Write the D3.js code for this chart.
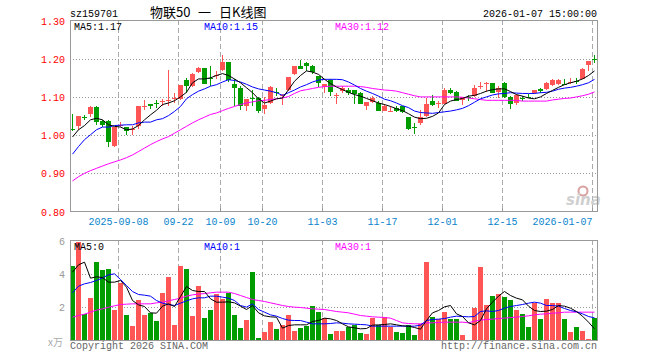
<!DOCTYPE html>
<html>
<head>
<meta charset="utf-8">
<script src="https://cdn.jsdelivr.net/npm/d3@7"></script>
<style>
body { margin: 0; background: #fff; }
text { font-family: "Liberation Mono", "DejaVu Sans Mono", monospace; font-size: 10px; }
</style>
</head>
<body>
<svg id="kline" width="660" height="360"></svg>
<script>
// trading days shown on the chart
var dates = [
  "2025-08-27","2025-08-28","2025-08-29","2025-09-01","2025-09-02","2025-09-03","2025-09-04","2025-09-05",
  "2025-09-08","2025-09-09","2025-09-10","2025-09-11","2025-09-12","2025-09-15","2025-09-16","2025-09-17",
  "2025-09-18","2025-09-19","2025-09-22","2025-09-23","2025-09-24","2025-09-25","2025-09-26","2025-09-29",
  "2025-09-30","2025-10-09","2025-10-10","2025-10-13","2025-10-14","2025-10-15","2025-10-16","2025-10-17",
  "2025-10-20","2025-10-21","2025-10-22","2025-10-23","2025-10-24","2025-10-27","2025-10-28","2025-10-29",
  "2025-10-30","2025-10-31","2025-11-03","2025-11-04","2025-11-05","2025-11-06","2025-11-07","2025-11-10",
  "2025-11-11","2025-11-12","2025-11-13","2025-11-14","2025-11-17","2025-11-18","2025-11-19","2025-11-20",
  "2025-11-21","2025-11-24","2025-11-25","2025-11-26","2025-11-27","2025-11-28","2025-12-01","2025-12-02",
  "2025-12-03","2025-12-04","2025-12-05","2025-12-08","2025-12-09","2025-12-10","2025-12-11","2025-12-12",
  "2025-12-15","2025-12-16","2025-12-17","2025-12-18","2025-12-19","2025-12-22","2025-12-23","2025-12-24",
  "2025-12-25","2025-12-26","2025-12-29","2025-12-30","2025-12-31","2026-01-05","2026-01-06","2026-01-07"
];

var open = [
  1.015,1.025,1.048,1.056,1.073,1.036,1.036,0.972,1.025,1.020,
  1.014,1.023,1.075,1.082,1.083,1.086,1.089,1.095,1.095,1.143,
  1.128,1.165,1.175,1.149,1.155,1.170,1.191,1.135,1.124,1.075,
  1.097,1.097,1.069,1.084,1.114,1.104,1.117,1.160,1.182,1.190,
  1.182,1.154,1.126,1.144,1.105,1.115,1.117,1.117,1.110,1.075,
  1.086,1.084,1.064,1.063,1.071,1.075,1.047,1.022,1.031,1.049,
  1.089,1.083,1.082,1.119,1.112,1.091,1.100,1.102,1.127,1.135,
  1.137,1.112,1.137,1.100,1.084,1.096,1.100,1.109,1.121,1.121,
  1.132,1.134,1.135,1.139,1.141,1.147,1.183,1.199
];
var high = [
  1.054,1.051,1.053,1.077,1.075,1.040,1.040,1.021,1.033,1.021,
  1.025,1.077,1.091,1.082,1.091,1.095,1.170,1.109,1.132,1.150,
  1.163,1.177,1.175,1.182,1.167,1.209,1.191,1.146,1.128,1.095,
  1.119,1.100,1.100,1.128,1.123,1.107,1.152,1.182,1.196,1.191,
  1.183,1.156,1.135,1.146,1.110,1.128,1.124,1.119,1.114,1.086,
  1.103,1.088,1.081,1.075,1.077,1.077,1.047,1.032,1.065,1.096,
  1.106,1.088,1.122,1.124,1.115,1.100,1.104,1.130,1.140,1.138,
  1.137,1.128,1.139,1.102,1.107,1.103,1.107,1.119,1.123,1.139,
  1.147,1.146,1.146,1.149,1.149,1.176,1.193,1.209
];
var low = [
  1.012,1.014,1.040,1.047,1.027,1.021,0.968,0.968,1.021,1.000,
  1.000,1.016,1.067,1.069,1.071,1.075,1.075,1.084,1.093,1.111,
  1.126,1.163,1.135,1.128,1.147,1.167,1.139,1.075,1.067,1.062,
  1.075,1.058,1.054,1.082,1.103,1.080,1.115,1.158,1.173,1.168,
  1.161,1.126,1.109,1.102,1.082,1.110,1.106,1.082,1.082,1.065,
  1.084,1.062,1.062,1.060,1.060,1.058,1.014,1.004,1.027,1.047,
  1.077,1.070,1.081,1.108,1.088,1.078,1.089,1.100,1.121,1.112,
  1.109,1.098,1.098,1.068,1.079,1.089,1.096,1.108,1.109,1.117,
  1.128,1.130,1.130,1.135,1.135,1.146,1.168,1.188
];
var close = [
  1.013,1.051,1.046,1.073,1.033,1.027,0.981,1.021,1.027,1.012,
  1.017,1.075,1.077,1.075,1.081,1.088,1.091,1.097,1.130,1.128,
  1.161,1.175,1.135,1.147,1.158,1.191,1.144,1.122,1.075,1.095,
  1.096,1.062,1.080,1.126,1.113,1.105,1.152,1.181,1.174,1.182,
  1.165,1.137,1.135,1.112,1.106,1.124,1.110,1.108,1.082,1.086,
  1.097,1.064,1.075,1.064,1.062,1.060,1.017,1.021,1.047,1.082,
  1.078,1.084,1.117,1.110,1.090,1.100,1.099,1.124,1.128,1.136,
  1.110,1.122,1.100,1.082,1.104,1.095,1.099,1.117,1.115,1.137,
  1.144,1.143,1.134,1.140,1.140,1.174,1.193,1.198
];

var ma5 = [
  0.995,1.014,1.025,1.040,1.044,1.040,1.027,1.023,1.021,1.014,
  1.016,1.025,1.040,1.053,1.065,1.080,1.084,1.090,1.100,1.112,
  1.137,1.147,1.147,1.150,1.156,1.161,1.156,1.147,1.137,1.124,
  1.111,1.095,1.084,1.089,1.095,1.097,1.119,1.141,1.156,1.168,
  1.165,1.159,1.146,1.135,1.126,1.119,1.112,1.106,1.102,1.096,
  1.090,1.084,1.080,1.075,1.069,1.064,1.056,1.047,1.043,1.044,
  1.049,1.058,1.080,1.089,1.093,1.096,1.102,1.104,1.109,1.115,
  1.119,1.121,1.121,1.114,1.106,1.102,1.097,1.095,1.100,1.109,
  1.117,1.125,1.132,1.137,1.141,1.147,1.156,1.168
];
var ma10 = [
  0.950,0.970,0.988,1.001,1.014,1.021,1.021,1.025,1.026,1.027,
  1.027,1.032,1.034,1.034,1.040,1.043,1.051,1.062,1.075,1.095,
  1.106,1.115,1.121,1.128,1.132,1.139,1.145,1.143,1.139,1.133,
  1.126,1.121,1.118,1.115,1.111,1.104,1.111,1.118,1.126,1.132,
  1.139,1.144,1.146,1.146,1.146,1.145,1.139,1.131,1.122,1.115,
  1.109,1.102,1.094,1.090,1.084,1.077,1.072,1.063,1.059,1.058,
  1.057,1.059,1.061,1.063,1.066,1.070,1.077,1.086,1.095,1.100,
  1.105,1.108,1.109,1.111,1.110,1.109,1.109,1.109,1.111,1.112,
  1.115,1.120,1.123,1.125,1.128,1.132,1.137,1.146
];
var ma30 = [
  0.880,0.891,0.900,0.907,0.913,0.919,0.925,0.930,0.935,0.941,
  0.948,0.957,0.966,0.975,0.983,0.990,0.996,1.005,1.014,1.023,
  1.032,1.040,1.047,1.054,1.058,1.064,1.070,1.075,1.080,1.084,
  1.087,1.090,1.091,1.093,1.095,1.097,1.101,1.109,1.116,1.119,
  1.122,1.125,1.127,1.128,1.128,1.128,1.128,1.128,1.127,1.125,
  1.122,1.120,1.118,1.117,1.115,1.111,1.107,1.103,1.100,1.100,
  1.100,1.100,1.100,1.100,1.100,1.099,1.097,1.095,1.093,1.091,
  1.091,1.091,1.091,1.091,1.091,1.089,1.089,1.089,1.089,1.089,
  1.092,1.094,1.096,1.097,1.100,1.103,1.107,1.113
];

// volume, in 万
var volume = [
  4.50,5.94,1.60,2.54,4.70,4.22,4.32,1.86,3.44,1.56,
  0.90,2.46,1.56,1.66,1.20,2.86,3.84,0.96,4.50,4.32,
  1.46,3.30,1.38,1.86,2.80,2.50,2.86,1.56,0.78,1.26,
  4.14,0.18,0.54,1.14,0.72,0.96,1.56,0.60,0.78,0.86,
  2.10,1.74,1.36,0.42,0.60,0.60,0.84,0.96,0.48,0.42,
  1.36,0.96,1.44,0.84,0.54,0.48,0.96,0.36,0.98,4.74,
  1.44,1.30,1.74,1.30,1.30,0.36,0.06,1.94,4.44,2.16,
  2.70,2.82,2.64,2.46,1.86,1.62,0.84,2.28,1.32,2.52,
  2.28,2.28,1.32,0.54,0.84,0.60,0.12,1.38
];
var vma5 = [
  4.10,4.54,4.70,3.74,3.82,3.78,3.50,3.50,3.60,3.20,
  2.40,2.14,2.04,1.66,1.64,2.06,2.20,2.04,2.64,3.24,
  3.00,2.94,2.94,2.50,2.30,2.30,2.32,2.26,2.06,1.86,
  2.10,1.66,1.48,1.42,1.40,0.74,0.90,0.94,0.94,0.94,
  1.14,1.20,1.34,1.30,1.20,1.00,0.82,0.76,0.70,0.72,
  0.92,0.94,0.96,1.00,0.94,0.88,0.86,0.78,0.68,1.20,
  1.66,1.80,2.02,2.10,1.60,1.44,1.06,0.94,1.20,1.90,
  2.30,2.66,2.94,2.70,2.54,2.44,2.06,1.80,1.74,1.76,
  1.86,2.10,2.06,1.94,1.74,1.46,1.10,0.70
];
var vma10 = [
  2.86,3.26,3.40,3.48,3.60,3.76,3.94,4.00,3.66,3.30,
  2.94,2.76,2.72,2.66,2.40,2.24,2.16,2.10,2.24,2.38,
  2.50,2.56,2.56,2.66,2.66,2.60,2.54,2.40,2.10,2.00,
  2.20,1.86,1.70,1.54,1.46,1.32,1.22,1.20,1.20,1.10,
  1.00,1.00,1.00,1.02,1.06,1.04,1.00,0.98,0.96,0.94,
  0.86,0.86,0.86,0.86,0.86,0.86,0.86,0.86,0.92,1.20,
  1.26,1.28,1.32,1.40,1.46,1.44,1.42,1.44,1.74,1.78,
  1.74,1.80,1.94,2.04,2.10,2.16,2.24,2.30,2.24,2.10,
  2.10,2.06,1.92,1.80,1.72,1.60,1.44,1.36
];
var vma30 = [
  1.40,1.50,1.58,1.70,1.82,1.90,2.00,2.08,2.16,2.18,
  2.20,2.20,2.20,2.20,2.26,2.30,2.38,2.46,2.54,2.66,
  2.74,2.78,2.82,2.86,2.90,2.90,2.90,2.82,2.70,2.58,
  2.46,2.40,2.34,2.26,2.18,2.10,2.04,2.00,1.98,1.94,
  1.90,1.88,1.86,1.80,1.74,1.70,1.66,1.58,1.50,1.46,
  1.42,1.40,1.38,1.34,1.20,1.06,1.02,1.00,1.00,1.06,
  1.06,1.08,1.10,1.10,1.10,1.10,1.06,1.16,1.22,1.26,
  1.28,1.32,1.34,1.38,1.40,1.44,1.48,1.54,1.58,1.60,
  1.64,1.66,1.70,1.70,1.70,1.70,1.70,1.70
];

var priceTicks = [0.8, 0.9, 1.0, 1.1, 1.2, 1.3];
var volTicks = [2, 4, 6];
var tickDates = ["2025-09-08","2025-09-22","2025-10-09","2025-10-20","2025-11-03","2025-11-17","2025-12-01","2025-12-15","2026-01-07"];
var tickLabels = ["2025-09-08","09-22","10-09","10-20","11-03","11-17","12-01","12-15","2026-01-07"];

var svg = d3.select("svg#kline");
var red = "#ff5555", green = "#009c00";
var plotLeft = 70, plotRight = 597;

var x = d3.scaleBand()
    .domain(dates)
    .range([69.5, 597.5]);
var cx = function(i) { return x(dates[i]) + 3; };

var y = d3.scaleLinear().domain([0.8, 1.3]).range([211.5, 20.5]);
var yv = d3.scaleLinear().domain([0, 6]).range([340.5, 240.5]);

// ---- titles
svg.append("text").attr("x", 70).attr("y", 16.5).attr("fill", "#000").text("sz159701");
var title = svg.append("g")
    .style("font-family", "'Noto Sans CJK SC', sans-serif").style("font-size", "13px");
[[150, "物联50"], [198, "一"], [219, "日K线图"]].forEach(function(t) {
    title.append("text").attr("x", t[0]).attr("y", 17)
        .style("font-family", "'Noto Sans CJK SC', sans-serif").style("font-size", "13px")
        .attr("fill", "#000").text(t[1]);
});
svg.append("text").attr("x", 597).attr("y", 16.5).attr("text-anchor", "end")
    .attr("fill", "#000").text("2026-01-07 15:00:00");

// ---- grids (main + volume)
function drawFrame(g, top, bottom, yScale, hTicks) {
    g.selectAll("line.h").data(hTicks).enter().append("line")
        .attr("x1", plotLeft).attr("x2", plotRight)
        .attr("y1", function(d) { return Math.round(yScale(d)) + 0.5; })
        .attr("y2", function(d) { return Math.round(yScale(d)) + 0.5; })
        .attr("stroke", "#999").attr("stroke-dasharray", "1,2");
    g.selectAll("line.v").data(tickDates).enter().append("line")
        .attr("x1", function(d) { return x(d) + 1; })
        .attr("x2", function(d) { return x(d) + 1; })
        .attr("y1", top).attr("y2", bottom)
        .attr("stroke", "#aaa").attr("stroke-dasharray", "5,3");
}

var main = svg.append("g");
drawFrame(main, 20, 211, y, [0.9, 1.0, 1.1, 1.2]);
var vol = svg.append("g");
drawFrame(vol, 240, 340, yv, [2, 4]);

// sina watermark
var wm = svg.append("g").attr("fill", "#cfcfcf");
wm.append("circle").attr("cx", 583).attr("cy", 191).attr("r", 4.5)
    .attr("fill", "none").attr("stroke", "#d9a0a0").attr("stroke-width", 2);
wm.append("text").attr("x", 566).attr("y", 205)
    .style("font-family", "'DejaVu Sans', sans-serif").style("font-size", "15px")
    .style("font-style", "italic").style("font-weight", "bold").text("sina");

// ---- candles
var candles = main.append("g").selectAll("g").data(dates).enter().append("g");
candles.append("line")
    .attr("x1", function(d, i) { return Math.floor(cx(i)) + 0.5; })
    .attr("x2", function(d, i) { return Math.floor(cx(i)) + 0.5; })
    .attr("y1", function(d, i) { return y(high[i]); })
    .attr("y2", function(d, i) { return y(low[i]); })
    .attr("stroke", function(d, i) { return close[i] > open[i] ? red : green; })
    .attr("shape-rendering", "crispEdges");
candles.append("rect")
    .attr("x", function(d, i) { return Math.floor(cx(i)) - 2; })
    .attr("width", 5)
    .attr("y", function(d, i) { return y(Math.max(open[i], close[i])); })
    .attr("height", function(d, i) { return Math.max(1, Math.abs(y(open[i]) - y(close[i]))); })
    .attr("fill", function(d, i) { return close[i] > open[i] ? red : green; })
    .attr("shape-rendering", "crispEdges");

// ---- moving averages
var priceLine = d3.line().x(function(d, i) { return cx(i); }).y(function(d) { return y(d); });
main.append("path").attr("d", priceLine(ma30)).attr("fill", "none").attr("stroke", "#ff00ff").attr("stroke-width", 1);
main.append("path").attr("d", priceLine(ma10)).attr("fill", "none").attr("stroke", "#0000ff").attr("stroke-width", 1);
main.append("path").attr("d", priceLine(ma5)).attr("fill", "none").attr("stroke", "#000").attr("stroke-width", 1);

// ---- volume bars
vol.append("g").selectAll("rect").data(volume).enter().append("rect")
    .attr("x", function(d, i) { return Math.floor(cx(i)) - 2; })
    .attr("width", 5)
    .attr("y", function(d) { return yv(d); })
    .attr("height", function(d) { return yv(0) - yv(d); })
    .attr("fill", function(d, i) { return close[i] > open[i] ? red : green; })
    .attr("shape-rendering", "crispEdges");

var volLine = d3.line().x(function(d, i) { return cx(i); }).y(function(d) { return yv(d); });
vol.append("path").attr("d", volLine(vma30)).attr("fill", "none").attr("stroke", "#ff00ff");
vol.append("path").attr("d", volLine(vma10)).attr("fill", "none").attr("stroke", "#0000ff");
vol.append("path").attr("d", volLine(vma5)).attr("fill", "none").attr("stroke", "#000");

// ---- frames
[[20, 211], [240, 340]].forEach(function(b) {
    svg.append("rect").attr("x", plotLeft + 0.5).attr("y", b[0] + 0.5)
        .attr("width", plotRight - plotLeft).attr("height", b[1] - b[0])
        .attr("fill", "none").attr("stroke", "#999").attr("stroke-width", 1);
});

// x ticks on main axis
main.selectAll("line.xt").data(tickDates).enter().append("line")
    .attr("x1", function(d) { return x(d) + 1; })
    .attr("x2", function(d) { return x(d) + 1; })
    .attr("y1", 211).attr("y2", 208)
    .attr("stroke", "#999");

// ---- axis labels
svg.append("g").selectAll("text").data(priceTicks).enter().append("text")
    .attr("x", 65).attr("y", function(d) { return y(d) + 4; })
    .attr("text-anchor", "end").attr("fill", "#ff0000")
    .text(function(d) { return d3.format(".2f")(d); });

svg.append("g").selectAll("text").data(tickDates).enter().append("text")
    .attr("x", function(d) { return x(d) + 1; })
    .attr("y", 225)
    .attr("text-anchor", function(d, i) { return i == tickDates.length - 1 ? "end" : "middle"; })
    .attr("fill", "#0a84cc")
    .text(function(d, i) { return tickLabels[i]; });

svg.append("g").selectAll("text").data(volTicks).enter().append("text")
    .attr("x", 65).attr("y", function(d) { return yv(d) + 4; })
    .attr("text-anchor", "end").attr("fill", "#999")
    .text(function(d) { return d; });
svg.append("text").attr("x", 63).attr("y", 346).attr("text-anchor", "end")
    .attr("fill", "#aaa").style("font-family", "'Noto Sans CJK SC', sans-serif").text("x万");

// ---- MA legends
var legends = [
    [74, 30, "#000", "MA5:1.17"], [204, 30, "#0000ff", "MA10:1.15"], [335, 30, "#ff00ff", "MA30:1.12"],
    [74, 250, "#000", "MA5:0"], [204, 250, "#0000ff", "MA10:1"], [335, 250, "#ff00ff", "MA30:1"]
];
svg.append("g").selectAll("text").data(legends).enter().append("text")
    .attr("x", function(d) { return d[0]; })
    .attr("y", function(d) { return d[1]; })
    .attr("fill", function(d) { return d[2]; })
    .text(function(d) { return d[3]; });

// footer
svg.append("text").attr("x", 70).attr("y", 349).attr("fill", "#666").text("Copyright 2026 SINA.COM");
svg.append("text").attr("x", 597).attr("y", 349).attr("text-anchor", "end").attr("fill", "#666").text("http://finance.sina.com.cn");
</script>
</body>
</html>
